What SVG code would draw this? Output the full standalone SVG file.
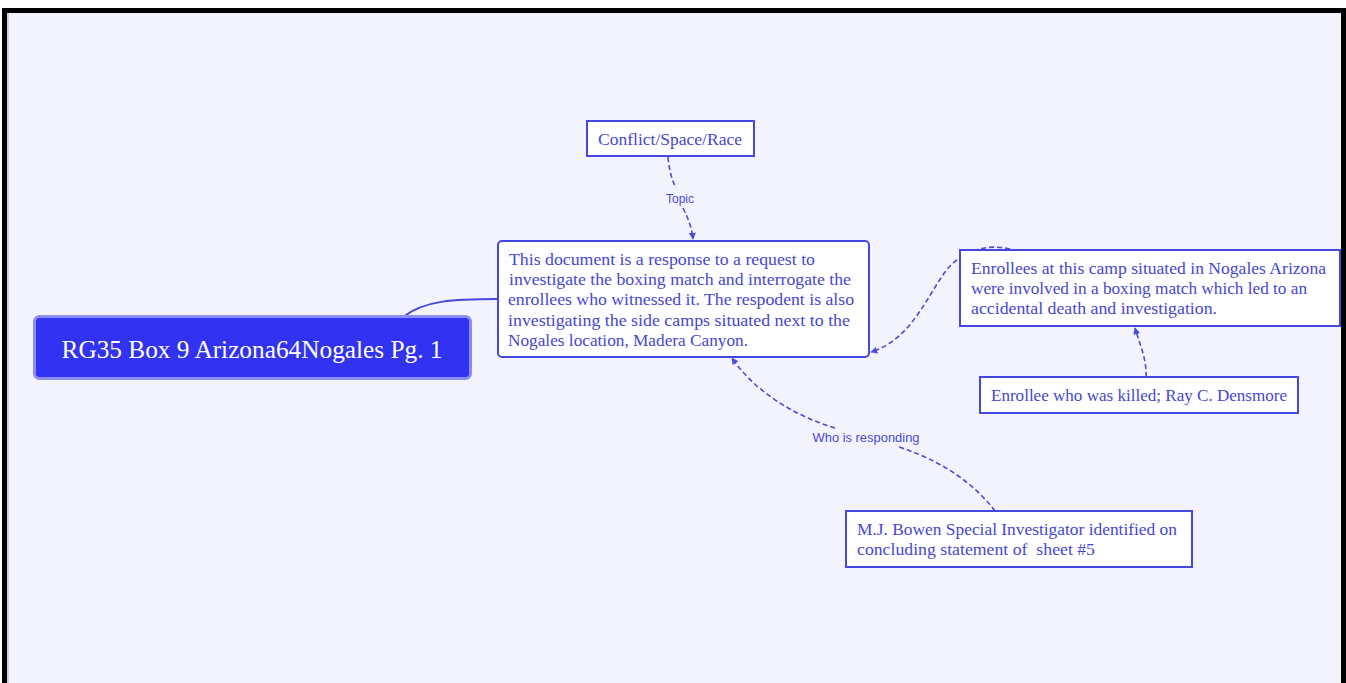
<svg xmlns="http://www.w3.org/2000/svg" width="1346" height="683" viewBox="0 0 1346 683">
<defs>
<style>
.box{fill:#ffffff;stroke:#4646e0;stroke-width:2}
.t{font-family:"Liberation Serif","Times New Roman",serif;font-size:17px;fill:#4646d6}
.lbl{font-family:"Liberation Sans",Arial,sans-serif;font-size:12px;fill:#4a4ad8;text-anchor:middle}
.dash{fill:none;stroke:#4a4ae0;stroke-width:1.6;stroke-dasharray:5 3}
</style>
<marker id="ah" viewBox="0 0 10 10" refX="9" refY="5" markerWidth="7" markerHeight="7" orient="auto" markerUnits="userSpaceOnUse">
<path d="M0,0 L10,5 L0,10 z" fill="#4a4ae0"/>
</marker>
</defs>
<rect x="0" y="0" width="1346" height="683" fill="#ffffff"/>
<rect x="2" y="8" width="1344" height="680" fill="#000000"/>
<rect x="7" y="13" width="1334" height="675" fill="#f3f3fd"/>
<line x1="8" y1="13" x2="8" y2="683" stroke="#a8a8f0" stroke-width="1"/>

<g id="connectors">
<path d="M403,317 C425,300 455,299 497,299" fill="none" stroke="#4646e0" stroke-width="2"/>
<path class="dash" d="M668,157 C669,170 672,180 676,188"/>
<path class="dash" d="M683,208 C688,218 692,228 693,239" marker-end="url(#ah)"/>
<path class="dash" d="M1010,249 C985,243 960,252 945,272 C925,300 910,340 871,352" marker-end="url(#ah)"/>
<path class="dash" d="M1146,377 C1147,360 1140,345 1135,328" marker-end="url(#ah)"/>
<path class="dash" d="M995,511 C975,485 945,462 899,447"/>
<path class="dash" d="M835,428 C795,416 755,392 732,358" marker-end="url(#ah)"/>
<text class="lbl" x="680" y="203">Topic</text>
<text class="lbl" x="866" y="442" textLength="107" lengthAdjust="spacingAndGlyphs">Who is responding</text>
</g>

<g id="node-main">
<rect x="34.5" y="316.5" width="436" height="62" rx="5" fill="#3232f2" stroke="#8c8cf2" stroke-width="3"/>
<text x="252" y="358" text-anchor="middle" font-family="'Liberation Serif','Times New Roman',serif" font-size="26" fill="#ffffff" textLength="381" lengthAdjust="spacingAndGlyphs">RG35 Box 9 Arizona64Nogales Pg. 1</text>
</g>

<g id="node-topic">
<rect class="box" x="587" y="121" width="167" height="35"/>
<text class="t" x="670" y="145" text-anchor="middle" textLength="144" lengthAdjust="spacingAndGlyphs">Conflict/Space/Race</text>
</g>

<g id="node-central">
<rect class="box" x="498" y="241" width="371" height="116" rx="4"/>
<text class="t" x="509" y="265" textLength="306" lengthAdjust="spacingAndGlyphs">This document is a response to a request to</text>
<text class="t" x="509" y="285" textLength="342" lengthAdjust="spacingAndGlyphs">investigate the boxing match and interrogate the</text>
<text class="t" x="508" y="305" textLength="346" lengthAdjust="spacingAndGlyphs">enrollees who witnessed it. The respodent is also</text>
<text class="t" x="508" y="326" textLength="342" lengthAdjust="spacingAndGlyphs">investigating the side camps situated next to the</text>
<text class="t" x="508" y="346" textLength="240" lengthAdjust="spacingAndGlyphs">Nogales location, Madera Canyon.</text>
</g>

<g id="node-enrollees">
<rect class="box" x="960" y="250" width="380" height="76"/>
<text class="t" x="971" y="274" textLength="355" lengthAdjust="spacingAndGlyphs">Enrollees at this camp situated in Nogales Arizona</text>
<text class="t" x="971" y="294" textLength="336" lengthAdjust="spacingAndGlyphs">were involved in a boxing match which led to an</text>
<text class="t" x="971" y="314" textLength="246" lengthAdjust="spacingAndGlyphs">accidental death and investigation.</text>
</g>

<g id="node-killed">
<rect class="box" x="980" y="377" width="318" height="36"/>
<text class="t" x="1139" y="401" text-anchor="middle" textLength="296" lengthAdjust="spacingAndGlyphs">Enrollee who was killed; Ray C. Densmore</text>
</g>

<g id="node-bowen">
<rect class="box" x="846" y="511" width="346" height="56"/>
<text class="t" x="857" y="535" textLength="320" lengthAdjust="spacingAndGlyphs">M.J. Bowen Special Investigator identified on</text>
<text class="t" x="857" y="555" textLength="238" lengthAdjust="spacingAndGlyphs" xml:space="preserve">concluding statement of  sheet #5</text>
</g>
</svg>
